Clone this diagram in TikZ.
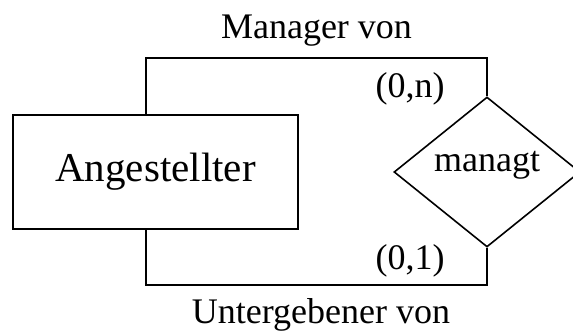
\documentclass[tikz,border=0pt]{standalone}
\usepackage{fontspec}
\setmainfont{Liberation Serif}
\usetikzlibrary{shapes.geometric}
\begin{document}
\begin{tikzpicture}[x=1pt,y=-1pt,
  line width=1.6pt,
  entity/.style={draw, rectangle, inner sep=0pt, minimum width=285pt, minimum height=114pt,
                 font=\fontsize{41}{46}\selectfont},
  relation/.style={draw, diamond, inner sep=0pt, minimum width=186pt, minimum height=150pt,
                   font=\fontsize{36}{40}\selectfont, text height=0pt, text depth=2pt},
  lbl/.style={inner sep=0pt, anchor=base, font=\fontsize{36}{40}\selectfont}]
  \useasboundingbox (0,0) rectangle (573,332);

  % entity and relationship
  \node[entity] (ang) at (155.5,172) {Angestellter};
  \node[relation] (mgr) at (487,172) {managt};

  % corners of the two role lines
  \coordinate (tl) at (146,58);
  \coordinate (tr) at (487,58);
  \coordinate (bl) at (146,285);
  \coordinate (br) at (487,285);

  % recursive relationship: two roles of the same entity
  \draw (ang.north -| tl) -- (tl) -- (tr) -- (mgr.north);
  \draw (ang.south -| bl) -- (bl) -- (br) -- (mgr.south);

  % role names and cardinalities
  \node[lbl] (rolemgr) at (316.5,38) {Manager von};
  \node[lbl] (rolesub) at (321,323) {Untergebener von};
  \node[lbl] (cardn) at (410,97) {(0,n)};
  \node[lbl] (card1) at (410,269) {(0,1)};
\end{tikzpicture}
\end{document}
